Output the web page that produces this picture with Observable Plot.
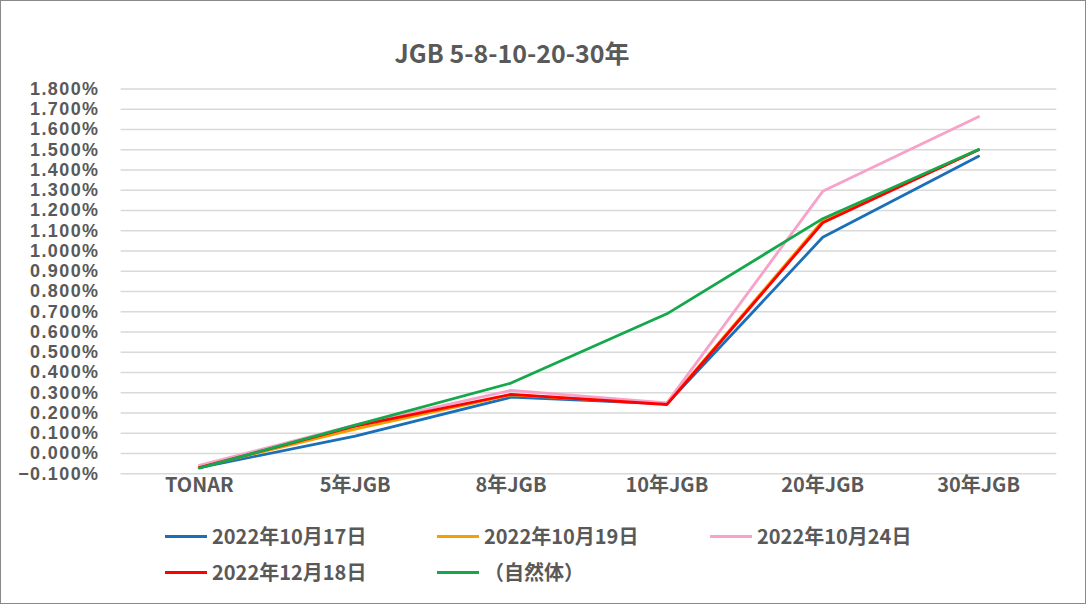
<!DOCTYPE html>
<html>
<head>
<meta charset="utf-8">
<script src="https://cdn.jsdelivr.net/npm/d3@7"></script>
<script src="https://cdn.jsdelivr.net/npm/@observablehq/plot@0.6"></script>
<style>
  html, body { margin: 0; padding: 0; background: #fff; }
  #frame { position: relative; width: 1086px; height: 604px; box-sizing: border-box; border: 1px solid #898989; overflow: hidden; background: #fff;
    font-family: "Noto Sans CJK JP", "Noto Sans", sans-serif; color: #595959; }
  #title { position: absolute; left: 0; width: 1022px; top: 34px; text-align: center; font-size: 25px; font-weight: bold; line-height: 34px; }
  #chart { position: absolute; left: -1px; top: -1px; }
  #legend { position: absolute; left: -1px; top: -1px; }
  .item { position: absolute; display: flex; align-items: center; font-size: 20px; font-weight: bold; white-space: nowrap; line-height: 26px; }
  .sw { width: 42px; height: 3px; margin-right: 5px; }
  g[aria-label="y-axis tick label"] text { letter-spacing: 1.4px; }
</style>
</head>
<body>
<div id="frame">
  <div id="title">JGB 5-8-10-20-30年</div>
  <div id="chart"></div>
  <div id="legend"></div>
</div>
<script>
const categories = ["TONAR", "5年JGB", "8年JGB", "10年JGB", "20年JGB", "30年JGB"];
const seriesNames = ["2022年10月17日", "2022年10月19日", "2022年10月24日", "2022年12月18日", "（自然体）"];
const seriesColors = ["#1a6fb8", "#f3a000", "#f6a2c9", "#ff0000", "#14a84c"];
const s1017 = [-0.070, 0.086, 0.278, 0.245, 1.068, 1.468];
const s1019 = [-0.068, 0.120, 0.290, 0.245, 1.150, 1.500];
const s1024 = [-0.058, 0.140, 0.312, 0.250, 1.295, 1.664];
const s1218 = [-0.070, 0.135, 0.292, 0.242, 1.140, 1.500];
const sNatural = [-0.072, 0.140, 0.348, 0.690, 1.160, 1.502];
const yTicks = d3.range(-0.1, 1.8001, 0.1).map(v => Math.round(v * 1000) / 1000);

const seriesValues = [s1017, s1019, s1024, s1218, sNatural];
const data = [];
seriesNames.forEach((name, i) => {
  categories.forEach((c, j) => data.push({series: name, cat: c, value: seriesValues[i][j]}));
});

const plot = Plot.plot({
  width: 1086,
  height: 510,
  marginTop: 88.7,
  marginBottom: 36.3,
  marginLeft: 119,
  marginRight: 28,
  style: {fontFamily: '"Noto Sans CJK JP", "Noto Sans", sans-serif', color: "#595959", background: "transparent"},
  x: {type: "point", domain: categories, padding: 0.5, label: null},
  y: {domain: [-0.1, 1.8], label: null},
  color: {domain: seriesNames, range: seriesColors},
  marks: [
    Plot.ruleY(yTicks, {stroke: "#d9d9d9", strokeWidth: 1.5, x1: () => categories[0], x2: () => categories[5], insetLeft: -78.3, insetRight: -78.3}),
    Plot.axisY({ticks: yTicks, tickSize: 0, tickPadding: 20, tickFormat: d => d3.format(".3f")(d) + "%",
      fontSize: 18, fontWeight: "bold", fill: "#595959", fontFamily: '"Liberation Sans", Arial, sans-serif'}),
    Plot.axisX({tickSize: 0, tickPadding: 4, fontSize: 20, fontWeight: "bold", fill: "#595959"}),
    Plot.line(data, {x: "cat", y: "value", z: "series", stroke: "series", strokeWidth: 2.8, strokeLinejoin: "miter", curve: "linear"})
  ]
});
document.getElementById("chart").appendChild(plot);

const legendPos = [
  {x: 165, y: 536}, {x: 437, y: 536}, {x: 710, y: 536},
  {x: 165, y: 572}, {x: 437, y: 572}
];
const legend = document.getElementById("legend");
seriesNames.forEach((name, i) => {
  const it = document.createElement("div");
  it.className = "item";
  it.style.left = legendPos[i].x + "px";
  it.style.top = (legendPos[i].y - 13) + "px";
  it.style.height = "26px";
  const sw = document.createElement("div");
  sw.className = "sw";
  sw.style.background = seriesColors[i];
  const tx = document.createElement("span");
  tx.textContent = name;
  it.appendChild(sw); it.appendChild(tx);
  legend.appendChild(it);
});
</script>
</body>
</html>
